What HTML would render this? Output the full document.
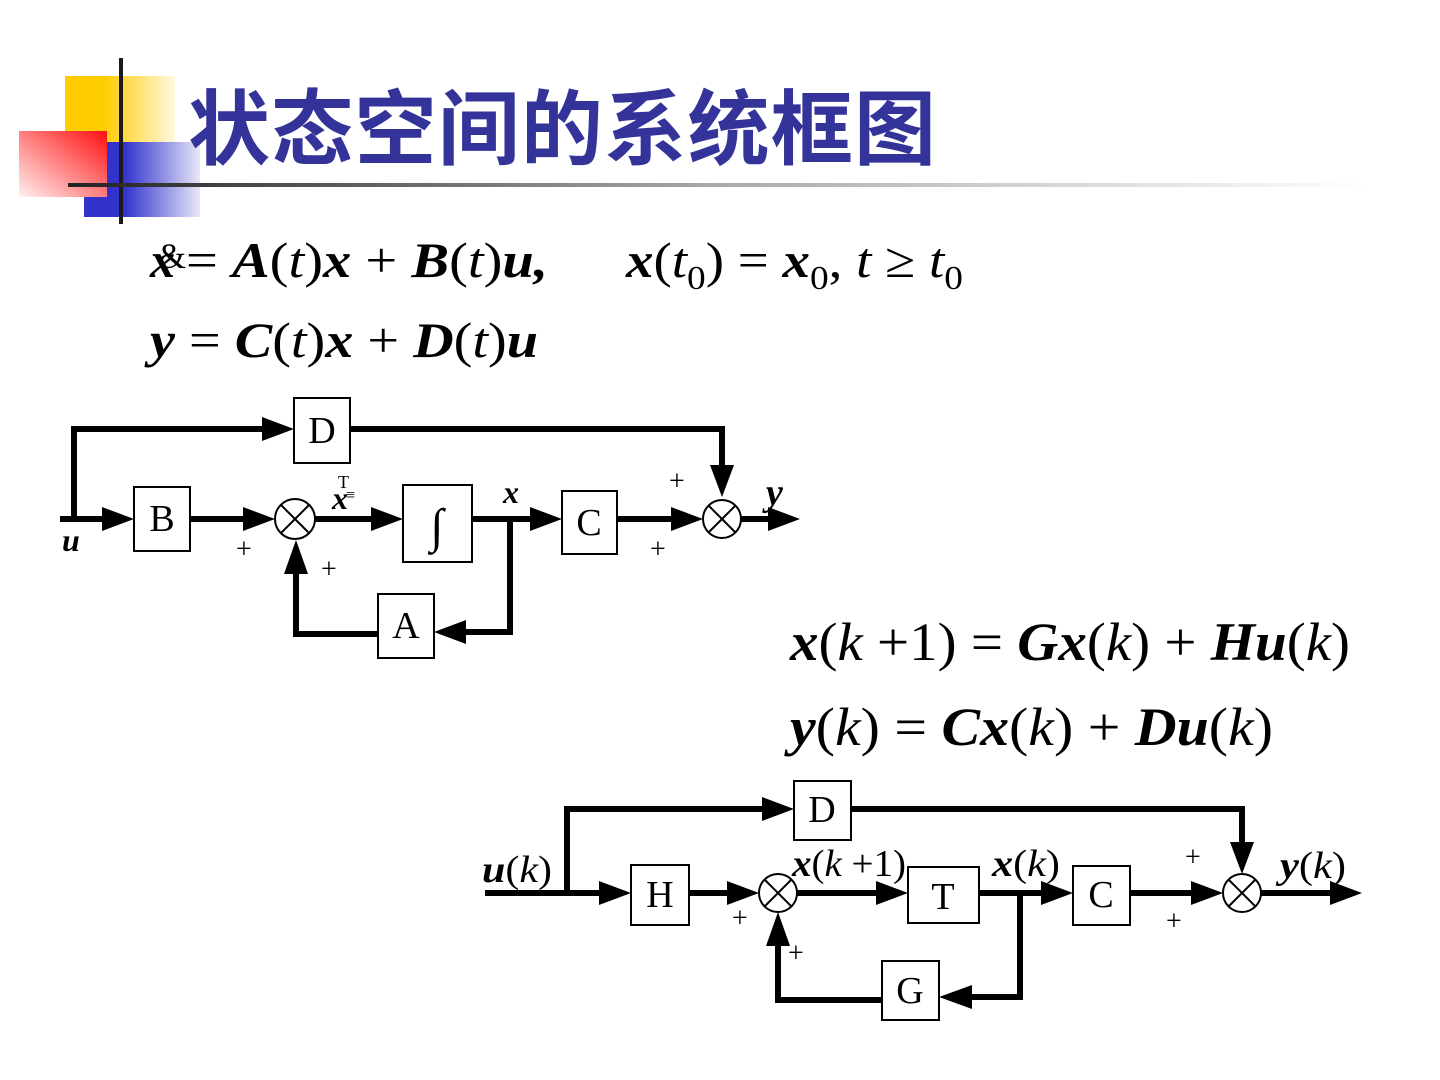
<!DOCTYPE html>
<html><head><meta charset="utf-8"><style>
html,body{margin:0;padding:0;background:#fff;}
svg{display:block;}
.m{font-family:"Liberation Serif",serif;fill:#000;}
.bi{font-style:italic;font-weight:bold;}
.i{font-style:italic;}
</style></head><body>
<svg width="1440" height="1080" viewBox="0 0 1440 1080" xmlns="http://www.w3.org/2000/svg">
<defs>
<linearGradient id="gy" x1="0" x2="1" y1="0" y2="0"><stop offset="0.35" stop-color="#ffcc00"/><stop offset="1" stop-color="#fff8e0"/></linearGradient>
<linearGradient id="gr" x1="1" y1="0" x2="0" y2="1"><stop offset="0" stop-color="#ff1010"/><stop offset="1" stop-color="#fff0f0"/></linearGradient>
<linearGradient id="gb" x1="0" x2="1" y1="0" y2="0"><stop offset="0.35" stop-color="#3333cc"/><stop offset="1" stop-color="#e8e8f8"/></linearGradient>
<linearGradient id="gl" x1="0" x2="1" y1="0" y2="0"><stop offset="0" stop-color="#222"/><stop offset="0.5" stop-color="#aaa"/><stop offset="1" stop-color="#fff"/></linearGradient>
</defs>
<rect x="65" y="76" width="110" height="66" fill="url(#gy)"/>
<rect x="84" y="142" width="116" height="75" fill="url(#gb)"/>
<rect x="19" y="131" width="88" height="66" fill="url(#gr)"/>
<rect x="119" y="58" width="4" height="166" fill="#1a1a1a"/>
<rect x="68" y="183" width="1300" height="4" fill="url(#gl)"/>
<text x="188" y="158" font-family="'Noto Sans CJK SC',sans-serif" font-weight="bold" font-size="82" fill="#333399" textLength="748">状态空间的系统框图</text>

<g class="m" font-size="50">
<text x="150" y="277" class="bi">x</text>
<text x="158" y="268" font-size="36">&amp;</text>
<text x="186" y="277" textLength="362" lengthAdjust="spacingAndGlyphs"><tspan>= </tspan><tspan class="bi">A</tspan>(<tspan class="i">t</tspan>)<tspan class="bi">x</tspan> + <tspan class="bi">B</tspan>(<tspan class="i">t</tspan>)<tspan class="bi">u,</tspan></text>
<text x="626" y="277" textLength="337" lengthAdjust="spacingAndGlyphs"><tspan class="bi">x</tspan>(<tspan class="i">t</tspan><tspan font-size="34" dy="12">0</tspan><tspan dy="-12">) = </tspan><tspan class="bi">x</tspan><tspan font-size="34" dy="12">0</tspan><tspan dy="-12">, </tspan><tspan class="i">t</tspan> ≥ <tspan class="i">t</tspan><tspan font-size="34" dy="12">0</tspan></text>
<text x="150" y="357" textLength="388" lengthAdjust="spacingAndGlyphs"><tspan class="bi">y</tspan> = <tspan class="bi">C</tspan>(<tspan class="i">t</tspan>)<tspan class="bi">x</tspan> + <tspan class="bi">D</tspan>(<tspan class="i">t</tspan>)<tspan class="bi">u</tspan></text>
</g>

<g stroke="#000" stroke-width="6" fill="none">
<polyline points="74,519 74,429 266,429"/>
<polyline points="350,429 722,429 722,468"/>
<line x1="60" y1="519" x2="106" y2="519"/>
<line x1="190" y1="519" x2="246" y2="519"/>
<line x1="315" y1="519" x2="374" y2="519"/>
<line x1="472" y1="519" x2="534" y2="519"/>
<line x1="617" y1="519" x2="674" y2="519"/>
<line x1="741" y1="519" x2="772" y2="519"/>
<polyline points="510,519 510,632 464,632"/>
<polyline points="378,634 296,634 296,572"/>
</g>
<g fill="#000">
<polygon points="294,429 262,417 262,441"/>
<polygon points="722,497 710,465 734,465"/>
<polygon points="134,519 102,507 102,531"/>
<polygon points="275,519 243,507 243,531"/>
<polygon points="403,519 371,507 371,531"/>
<polygon points="562,519 530,507 530,531"/>
<polygon points="703,519 671,507 671,531"/>
<polygon points="800,519 768,507 768,531"/>
<polygon points="434,632 466,620 466,644"/>
<polygon points="296,540 284,574 308,574"/>
</g>
<g stroke="#000" stroke-width="2" fill="#fff">
<rect x="294" y="398" width="56" height="65"/>
<rect x="134" y="487" width="56" height="64"/>
<rect x="403" y="485" width="69" height="77"/>
<rect x="562" y="491" width="55" height="63"/>
<rect x="378" y="594" width="56" height="64"/>
<circle cx="295" cy="519" r="20"/>
<circle cx="722" cy="519" r="19"/>
</g>
<g stroke="#000" stroke-width="2">
<line x1="281" y1="505" x2="309" y2="533"/><line x1="309" y1="505" x2="281" y2="533"/>
<line x1="709" y1="506" x2="735" y2="532"/><line x1="735" y1="506" x2="709" y2="532"/>
</g>
<g class="m" font-size="38" text-anchor="middle">
<text x="322" y="443">D</text><text x="162" y="531">B</text><text x="589" y="535">C</text><text x="406" y="638">A</text>
<text x="437" y="542" font-size="48">∫</text>
</g>
<g class="m" font-size="28">
<text x="236" y="558">+</text><text x="321" y="578">+</text><text x="669" y="490">+</text><text x="650" y="558">+</text>
<text x="62" y="551" class="bi" font-size="32">u</text>
<text x="503" y="503" class="bi" font-size="32">x</text>
<text x="766" y="505" class="bi" font-size="38">y</text>
<text x="332" y="509" class="bi" font-size="32">x</text>
<text x="338" y="488" font-size="18">T</text><text x="346" y="500" font-size="16">≡</text>
</g>

<g class="m" font-size="54">
<text x="790" y="660" textLength="560" lengthAdjust="spacingAndGlyphs"><tspan class="bi">x</tspan>(<tspan class="i">k</tspan> +1) = <tspan class="bi">Gx</tspan>(<tspan class="i">k</tspan>) + <tspan class="bi">Hu</tspan>(<tspan class="i">k</tspan>)</text>
<text x="790" y="745" textLength="483" lengthAdjust="spacingAndGlyphs"><tspan class="bi">y</tspan>(<tspan class="i">k</tspan>) = <tspan class="bi">Cx</tspan>(<tspan class="i">k</tspan>) + <tspan class="bi">Du</tspan>(<tspan class="i">k</tspan>)</text>
</g>

<g stroke="#000" stroke-width="6" fill="none">
<polyline points="567,893 567,809 766,809"/>
<polyline points="851,809 1242,809 1242,845"/>
<line x1="485" y1="893" x2="603" y2="893"/>
<line x1="689" y1="893" x2="731" y2="893"/>
<line x1="797" y1="893" x2="880" y2="893"/>
<line x1="979" y1="893" x2="1045" y2="893"/>
<line x1="1130" y1="893" x2="1195" y2="893"/>
<line x1="1261" y1="893" x2="1335" y2="893"/>
<polyline points="1020,893 1020,997 970,997"/>
<polyline points="882,1000 778,1000 778,942"/>
</g>
<g fill="#000">
<polygon points="794,809 762,797 762,821"/>
<polygon points="1242,874 1230,842 1254,842"/>
<polygon points="631,893 599,881 599,905"/>
<polygon points="759,893 727,881 727,905"/>
<polygon points="908,893 876,881 876,905"/>
<polygon points="1073,893 1041,881 1041,905"/>
<polygon points="1223,893 1191,881 1191,905"/>
<polygon points="1362,893 1330,881 1330,905"/>
<polygon points="939,997 972,985 972,1009"/>
<polygon points="778,912 766,946 790,946"/>
</g>
<g stroke="#000" stroke-width="2" fill="#fff">
<rect x="794" y="781" width="57" height="59"/>
<rect x="631" y="865" width="58" height="60"/>
<rect x="908" y="867" width="71" height="56"/>
<rect x="1073" y="866" width="57" height="59"/>
<rect x="882" y="961" width="57" height="59"/>
<circle cx="778" cy="893" r="19"/>
<circle cx="1242" cy="893" r="19"/>
</g>
<g stroke="#000" stroke-width="2">
<line x1="765" y1="880" x2="791" y2="906"/><line x1="791" y1="880" x2="765" y2="906"/>
<line x1="1229" y1="880" x2="1255" y2="906"/><line x1="1255" y1="880" x2="1229" y2="906"/>
</g>
<g class="m" font-size="38" text-anchor="middle">
<text x="822" y="822">D</text><text x="660" y="907">H</text><text x="943" y="909">T</text><text x="1101" y="907">C</text><text x="910" y="1003">G</text>
</g>
<g class="m" font-size="28">
<text x="732" y="927">+</text><text x="788" y="962">+</text><text x="1185" y="866">+</text><text x="1166" y="930">+</text>
</g>
<g class="m" font-size="38">
<text x="482" y="882" textLength="70" lengthAdjust="spacingAndGlyphs"><tspan class="bi">u</tspan>(<tspan class="i">k</tspan>)</text>
<text x="792" y="876" textLength="114" lengthAdjust="spacingAndGlyphs"><tspan class="bi">x</tspan>(<tspan class="i">k</tspan> +1)</text>
<text x="992" y="876" textLength="68" lengthAdjust="spacingAndGlyphs"><tspan class="bi">x</tspan>(<tspan class="i">k</tspan>)</text>
<text x="1280" y="878" textLength="66" lengthAdjust="spacingAndGlyphs"><tspan class="bi">y</tspan>(<tspan class="i">k</tspan>)</text>
</g>
</svg>
</body></html>
